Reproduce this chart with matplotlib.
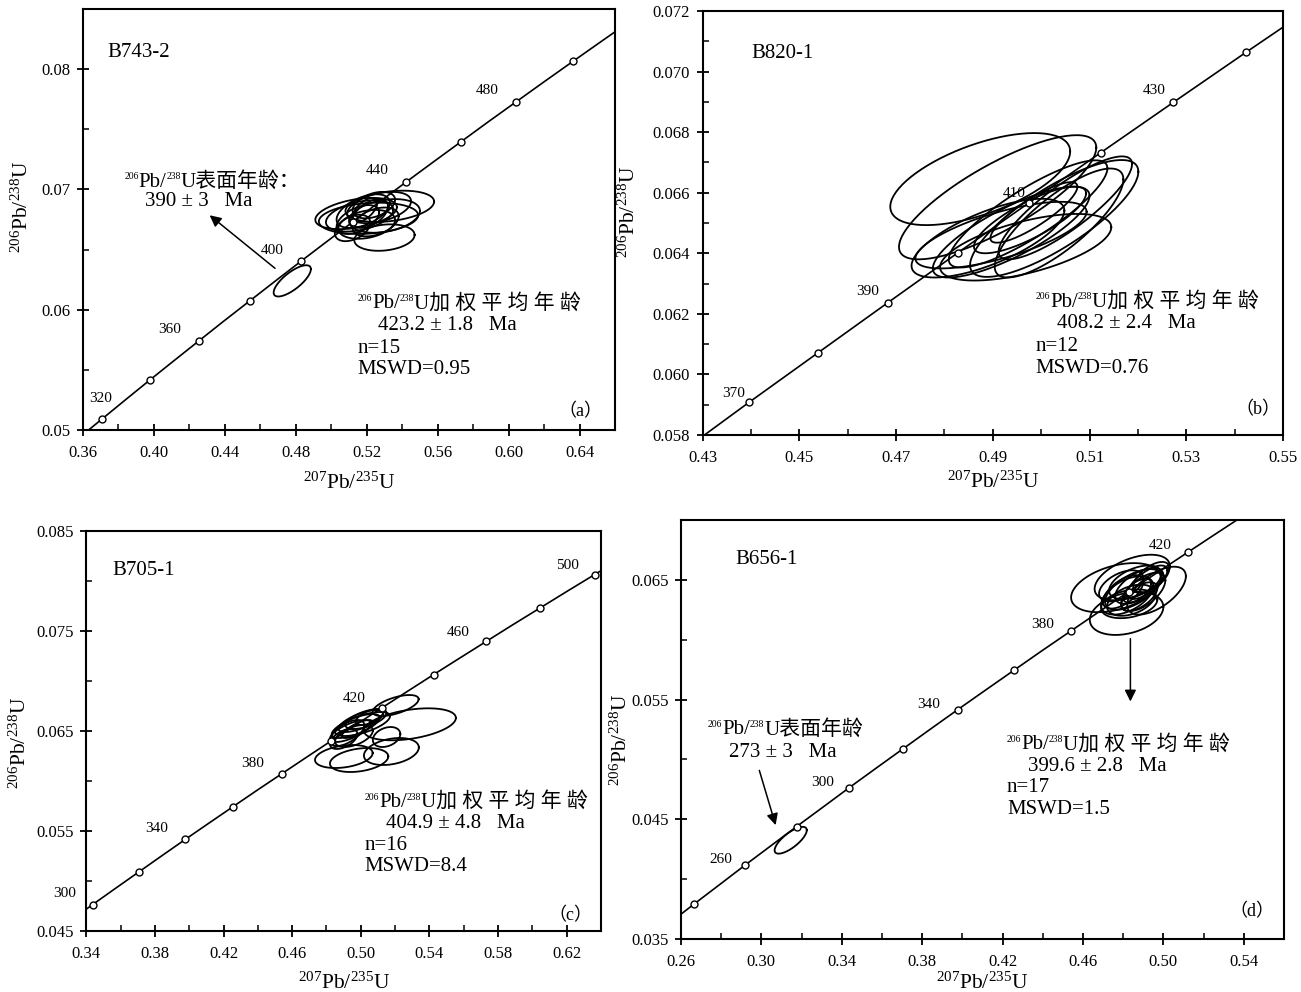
import numpy as np
import matplotlib.pyplot as plt
from matplotlib.ticker import FormatStrFormatter

plt.rcParams['font.family'] = ['Liberation Serif', 'Noto Sans CJK SC']
plt.rcParams['mathtext.fontset'] = 'custom'
plt.rcParams['mathtext.rm'] = 'Liberation Serif'
plt.rcParams['mathtext.it'] = 'Liberation Serif:italic'
plt.rcParams['mathtext.bf'] = 'Liberation Serif:bold'
plt.rcParams['axes.linewidth'] = 1.5

# concordia (Ma, 207Pb/235U, 206Pb/238U)
ages = [230, 240, 250, 260, 270, 280, 290, 300, 310, 320, 330, 340, 350, 360, 370,
        380, 390, 400, 410, 420, 430, 440, 450, 460, 470, 480, 490, 500, 510, 520]
r75 = [0.2542, 0.2666, 0.2792, 0.2918, 0.3046, 0.3175, 0.3306, 0.3437, 0.3570, 0.3705,
       0.3840, 0.3977, 0.4116, 0.4255, 0.4396, 0.4539, 0.4683, 0.4828, 0.4975, 0.5123,
       0.5273, 0.5424, 0.5577, 0.5731, 0.5886, 0.6044, 0.6202, 0.6363, 0.6525, 0.6688]
r68 = [0.03632, 0.03793, 0.03954, 0.04116, 0.04277, 0.04439, 0.04601, 0.04764, 0.04926, 0.05089,
       0.05252, 0.05416, 0.05580, 0.05743, 0.05908, 0.06072, 0.06237, 0.06402, 0.06567, 0.06732,
       0.06898, 0.07064, 0.07230, 0.07396, 0.07563, 0.07730, 0.07897, 0.08065, 0.08233, 0.08401]

marks_a = [320, 340, 360, 380, 400, 420, 440, 460, 480, 500]
marks_b = [370, 380, 390, 400, 410, 420, 430, 440]
marks_c = [300, 320, 340, 360, 380, 400, 420, 440, 460, 480, 500]
marks_d = [240, 260, 280, 300, 320, 340, 360, 380, 400, 420]

# error ellipses: centre, half extents, correlation
a_cx = [0.514, 0.533, 0.530, 0.521, 0.518, 0.522, 0.515, 0.527, 0.520, 0.512, 0.530, 0.519, 0.524, 0.516, 0.525, 0.478]
a_cy = [0.0680, 0.0686, 0.0660, 0.0676, 0.0682, 0.0680, 0.0675, 0.0685, 0.0671, 0.0668, 0.0678, 0.0683, 0.0687, 0.0678, 0.0673, 0.0624]
a_sx = [0.023, 0.025, 0.017, 0.028, 0.015, 0.010, 0.012, 0.018, 0.016, 0.010, 0.020, 0.007, 0.012, 0.019, 0.013, 0.0105]
a_sy = [0.0013, 0.0013, 0.0011, 0.0013, 0.0014, 0.0012, 0.0012, 0.0013, 0.0012, 0.0011, 0.0014, 0.0010, 0.0011, 0.0013, 0.0012, 0.0013]
a_rho = [0.4, 0.3, 0.2, 0.2, 0.5, 0.5, 0.5, 0.4, 0.3, 0.4, 0.3, 0.6, 0.4, 0.4, 0.4, 0.75]

b_cx = [0.4874, 0.4910, 0.4890, 0.5027, 0.5037, 0.4973, 0.4938, 0.4968, 0.4977, 0.4985, 0.5050, 0.4917]
b_cy = [0.06645, 0.06585, 0.0645, 0.06515, 0.0650, 0.0653, 0.0647, 0.0642, 0.0651, 0.06535, 0.0655, 0.0646]
b_sx = [0.0186, 0.0204, 0.0158, 0.0174, 0.0133, 0.0164, 0.0162, 0.0177, 0.0116, 0.0090, 0.0138, 0.0177]
b_sy = [0.00152, 0.00205, 0.0013, 0.00193, 0.0018, 0.00177, 0.0015, 0.0011, 0.0011, 0.0010, 0.0017, 0.0011]
b_rho = [0.6, 0.8, 0.7, 0.8, 0.8, 0.85, 0.8, 0.6, 0.8, 0.85, 0.85, 0.7]

c_cx = [0.5203, 0.5286, 0.4901, 0.4990, 0.5178, 0.5150, 0.497, 0.500, 0.494, 0.498, 0.503, 0.492, 0.501, 0.496, 0.505, 0.490]
c_cy = [0.06755, 0.06567, 0.06245, 0.0621, 0.06295, 0.0644, 0.0655, 0.0660, 0.0650, 0.0652, 0.0662, 0.0648, 0.0657, 0.0645, 0.0664, 0.0642]
c_sx = [0.0134, 0.0268, 0.0168, 0.0170, 0.0160, 0.0080, 0.014, 0.013, 0.012, 0.009, 0.012, 0.010, 0.016, 0.011, 0.008, 0.008]
c_sy = [0.00105, 0.0016, 0.00115, 0.0012, 0.00135, 0.0010, 0.0012, 0.0011, 0.0011, 0.0009, 0.0010, 0.0013, 0.0012, 0.0011, 0.0008, 0.0010]
c_rho = [0.6, 0.4, 0.3, 0.3, 0.3, 0.3, 0.7, 0.7, 0.7, 0.75, 0.6, 0.6, 0.65, 0.5, 0.6, 0.5]

d_cx = [0.4764, 0.4845, 0.4966, 0.4817, 0.485, 0.488, 0.482, 0.490, 0.486, 0.480, 0.492, 0.484, 0.488, 0.494, 0.479, 0.487, 0.483, 0.3146]
d_cy = [0.06435, 0.0652, 0.0641, 0.0622, 0.0642, 0.0645, 0.0637, 0.0640, 0.0648, 0.0640, 0.0648, 0.0633, 0.0636, 0.0652, 0.0645, 0.0641, 0.0630, 0.04325]
d_sx = [0.0223, 0.0187, 0.0146, 0.0183, 0.014, 0.012, 0.013, 0.011, 0.013, 0.010, 0.010, 0.012, 0.009, 0.009, 0.011, 0.007, 0.014, 0.008]
d_sy = [0.00205, 0.0019, 0.0020, 0.0018, 0.0017, 0.0015, 0.0016, 0.0016, 0.0014, 0.0014, 0.0014, 0.0013, 0.0012, 0.0013, 0.0013, 0.0010, 0.0012, 0.00112]
d_rho = [0.4, 0.5, 0.6, 0.3, 0.6, 0.6, 0.5, 0.6, 0.5, 0.6, 0.7, 0.4, 0.6, 0.6, 0.5, 0.6, 0.3, 0.75]

iso68 = r'$^{206}$Pb/$^{238}$U'
iso75 = r'$^{207}$Pb/$^{235}$U'
TXT = 15
SUP = 7


def concordia(ax, marks):
    ax.plot(r75, r68, color='k', lw=1.2, zorder=2)
    idx = [ages.index(m) for m in marks]
    ax.plot(np.array(r75)[idx], np.array(r68)[idx], 'o', ms=5, mfc='white', mec='k', mew=1, zorder=4)


def ellipses(ax, cx, cy, sx, sy, rho):
    t = np.linspace(0, 2 * np.pi, 150)
    for x0, y0, a, b, r in zip(cx, cy, sx, sy, rho):
        ax.plot(x0 + a * np.cos(t), y0 + b * (r * np.cos(t) + np.sqrt(1 - r**2) * np.sin(t)),
                color='k', lw=1.3, zorder=3)


def style(ax, xlim, ylim, xmaj, xmin_, ymaj, ymin_, yfmt, xlab_y, ylab_x, ylab_y):
    ax.set_xlim(xlim)
    ax.set_ylim(ylim)
    ax.set_xticks(xmaj)
    ax.set_xticks(xmin_, minor=True)
    ax.set_yticks(ymaj)
    ax.set_yticks(ymin_, minor=True)
    ax.xaxis.set_major_formatter(FormatStrFormatter('%.2f'))
    ax.yaxis.set_major_formatter(FormatStrFormatter(yfmt))
    ax.tick_params(which='major', direction='inout', length=8, width=1.3, labelsize=12, top=False, right=False)
    ax.tick_params(axis='x', which='major', pad=7)
    ax.tick_params(axis='y', which='major', pad=5)
    ax.tick_params(which='minor', direction='in', length=4, width=1.1, top=False, right=False)
    ax.set_xlabel(iso75, fontsize=15.5)
    ax.set_ylabel(iso68, fontsize=15.5)
    ax.xaxis.set_label_coords(0.5, xlab_y)
    ax.yaxis.set_label_coords(ylab_x, ylab_y)


def iso_label(ax, x, y, tail):
    # small superscripts like the original: 206 Pb/ 238 U + chinese
    base = -3.5
    up = base + 0.66 * (TXT - SUP)
    s1 = ax.annotate('206', xy=(x, y), xytext=(0, up), textcoords='offset points',
                     fontsize=SUP, va='baseline', ha='left')
    m1 = ax.annotate('Pb/', xy=(1, y), xycoords=(s1, 'data'), xytext=(0, base), textcoords='offset points',
                     fontsize=TXT, va='baseline', ha='left')
    s2 = ax.annotate('238', xy=(1, y), xycoords=(m1, 'data'), xytext=(0, up), textcoords='offset points',
                     fontsize=SUP, va='baseline', ha='left')
    ax.annotate('U' + tail, xy=(1, y), xycoords=(s2, 'data'), xytext=(0, base), textcoords='offset points',
                fontsize=TXT, va='baseline', ha='left')


def age_labels(ax, items):
    for age, x, y in items:
        ax.text(x, y, str(age), fontsize=11, ha='center', va='center', zorder=1)


def arrow(ax, x0, y0, x1, y1):
    ax.annotate('', xy=(x1, y1), xytext=(x0, y0),
                arrowprops=dict(arrowstyle='-|>', color='k', lw=1.1, mutation_scale=17))


fig = plt.figure(figsize=(13.01, 9.92), dpi=100)
ax_a = fig.add_axes([0.0638, 0.5665, 0.4089, 0.4244])
ax_b = fig.add_axes([0.5401, 0.5615, 0.4460, 0.4274])
ax_c = fig.add_axes([0.0663, 0.0615, 0.3957, 0.4032])
ax_d = fig.add_axes([0.5234, 0.0534, 0.4635, 0.4224])

# (a)
ax = ax_a
concordia(ax, marks_a)
ellipses(ax, a_cx, a_cy, a_sx, a_sy, a_rho)
style(ax, (0.36, 0.66), (0.05, 0.085),
      [0.36, 0.40, 0.44, 0.48, 0.52, 0.56, 0.60, 0.64], [0.38, 0.42, 0.46, 0.50, 0.54, 0.58, 0.62],
      [0.05, 0.06, 0.07, 0.08], [0.055, 0.065, 0.075, 0.085], '%.2f', -0.10, -0.094, 0.53)
ax.text(0.3736, 0.0814, 'B743-2', fontsize=TXT, va='center')
age_labels(ax, [(320, 0.3701, 0.05263), (360, 0.4091, 0.05837), (400, 0.4665, 0.06496),
                (440, 0.5261, 0.0716), (480, 0.5881, 0.07825)])
iso_label(ax, 0.3834, 0.07064, '表面年龄：')
ax.text(0.3951, 0.06898, '390 ± 3   Ma', fontsize=TXT, va='center')
arrow(ax, 0.4695, 0.0633, 0.4302, 0.0680)
iso_label(ax, 0.5149, 0.06053, '加 权 平 均 年 龄')
ax.text(0.5261, 0.05873, '423.2 ± 1.8   Ma', fontsize=TXT, va='center')
ax.text(0.5149, 0.05679, 'n=15', fontsize=TXT, va='center')
ax.text(0.5149, 0.05504, 'MSWD=0.95', fontsize=TXT, va='center')
ax.text(0.6407, 0.05152, '（a）', fontsize=13, ha='center', va='center')

# (b)
ax = ax_b
concordia(ax, marks_b)
ellipses(ax, b_cx, b_cy, b_sx, b_sy, b_rho)
style(ax, (0.43, 0.55), (0.058, 0.072),
      [0.43, 0.45, 0.47, 0.49, 0.51, 0.53, 0.55], [0.44, 0.46, 0.48, 0.50, 0.52, 0.54],
      [0.058, 0.060, 0.062, 0.064, 0.066, 0.068, 0.070, 0.072],
      [0.059, 0.061, 0.063, 0.065, 0.067, 0.069, 0.071], '%.3f', -0.087, -0.108, 0.526)
ax.text(0.4401, 0.0706, 'B820-1', fontsize=TXT, va='center')
age_labels(ax, [(370, 0.4363, 0.05938), (390, 0.4642, 0.06273), (410, 0.4945, 0.06598),
                (430, 0.5234, 0.06939)])
iso_label(ax, 0.4989, 0.0624, '加 权 平 均 年 龄')
ax.text(0.5032, 0.06169, '408.2 ± 2.4   Ma', fontsize=TXT, va='center')
ax.text(0.4989, 0.06092, 'n=12', fontsize=TXT, va='center')
ax.text(0.4989, 0.0602, 'MSWD=0.76', fontsize=TXT, va='center')
ax.text(0.5449, 0.05883, '（b）', fontsize=13, ha='center', va='center')

# (c)
ax = ax_c
concordia(ax, marks_c)
ellipses(ax, c_cx, c_cy, c_sx, c_sy, c_rho)
style(ax, (0.34, 0.64), (0.045, 0.085),
      [0.34, 0.38, 0.42, 0.46, 0.50, 0.54, 0.58, 0.62], [0.36, 0.40, 0.44, 0.48, 0.52, 0.56, 0.60, 0.64],
      [0.045, 0.055, 0.065, 0.075, 0.085], [0.05, 0.06, 0.07, 0.08], '%.3f', -0.105, -0.107, 0.47)
ax.text(0.355, 0.08107, 'B705-1', fontsize=TXT, va='center')
age_labels(ax, [(300, 0.3272, 0.04873), (340, 0.3811, 0.05523), (380, 0.4371, 0.06173),
                (420, 0.4963, 0.06823), (460, 0.5567, 0.0749), (500, 0.6207, 0.08157)])
iso_label(ax, 0.5023, 0.0579, '加 权 平 均 年 龄')
ax.text(0.5144, 0.05573, '404.9 ± 4.8   Ma', fontsize=TXT, va='center')
ax.text(0.5023, 0.05357, 'n=16', fontsize=TXT, va='center')
ax.text(0.5023, 0.05147, 'MSWD=8.4', fontsize=TXT, va='center')
ax.text(0.6219, 0.04657, '（c）', fontsize=13, ha='center', va='center')

# (d)
ax = ax_d
concordia(ax, marks_d)
ellipses(ax, d_cx, d_cy, d_sx, d_sy, d_rho)
style(ax, (0.26, 0.56), (0.035, 0.070),
      [0.26, 0.30, 0.34, 0.38, 0.42, 0.46, 0.50, 0.54], [0.28, 0.32, 0.36, 0.40, 0.44, 0.48, 0.52],
      [0.035, 0.045, 0.055, 0.065], [0.04, 0.05, 0.06, 0.07], '%.3f', -0.081, -0.081, 0.475)
ax.text(0.2869, 0.06674, 'B656-1', fontsize=TXT, va='center')
age_labels(ax, [(260, 0.2796, 0.04164), (300, 0.3303, 0.04805), (340, 0.3833, 0.05461),
                (380, 0.4398, 0.0613), (420, 0.4986, 0.06786)])
iso_label(ax, 0.2734, 0.05251, '表面年龄')
ax.text(0.2838, 0.05056, '273 ± 3   Ma', fontsize=TXT, va='center')
arrow(ax, 0.2986, 0.04931, 0.3075, 0.04429)
arrow(ax, 0.4836, 0.06032, 0.4836, 0.05461)
iso_label(ax, 0.4222, 0.05126, '加 权 平 均 年 龄')
ax.text(0.4325, 0.04945, '399.6 ± 2.8   Ma', fontsize=TXT, va='center')
ax.text(0.4222, 0.04763, 'n=17', fontsize=TXT, va='center')
ax.text(0.4222, 0.04582, 'MSWD=1.5', fontsize=TXT, va='center')
ax.text(0.5441, 0.03731, '（d）', fontsize=13, ha='center', va='center')

fig.savefig('out.png', dpi=100)
